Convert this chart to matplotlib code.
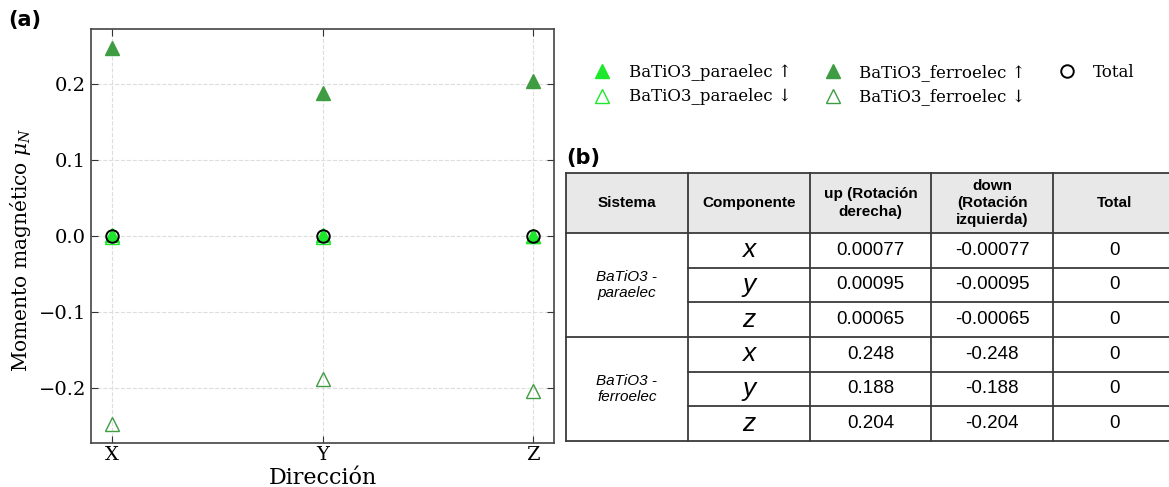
import matplotlib.pyplot as plt
from matplotlib.lines import Line2D

# ---- data ----
directions = ["X", "Y", "Z"]
para_up = [0.00077, 0.00095, 0.00065]
para_down = [-0.00077, -0.00095, -0.00065]
ferro_up = [0.248, 0.188, 0.204]
ferro_down = [-0.248, -0.188, -0.204]
total = [0, 0, 0]

table_header = ["Sistema", "Componente", "up (Rotación\nderecha)",
                "down\n(Rotación\nizquierda)", "Total"]
table_systems = ["BaTiO3 -\nparaelec", "BaTiO3 -\nferroelec"]
table_components = ["x", "y", "z"]

LIME = "#1ee82c"
DARK = "#3f9c42"

plt.rcParams["font.family"] = "DejaVu Serif"
plt.rcParams["mathtext.fontset"] = "dejavuserif"

fig = plt.figure(figsize=(11.69, 4.87), dpi=100)

# ---- (a) scatter ----
ax = fig.add_axes([91 / 1169, 44 / 487, 463 / 1169, 414 / 487])
xs = list(range(len(directions)))
ax.plot(xs, para_up, ls="none", marker="^", ms=10, color=LIME, zorder=3)
ax.plot(xs, para_down, ls="none", marker="^", ms=10, mfc="none", mec=LIME, zorder=3)
ax.plot(xs, ferro_up, ls="none", marker="^", ms=10, color=DARK, zorder=3)
ax.plot(xs, ferro_down, ls="none", marker="^", ms=10, mfc="none", mec=DARK, zorder=3)
ax.plot(xs, total, ls="none", marker="o", ms=9, mfc="none", mec="black", mew=1.4, zorder=4)

ax.set_xticks(xs)
ax.set_xticklabels(directions)
ax.set_yticks([-0.2, -0.1, 0.0, 0.1, 0.2])
ax.tick_params(direction="in", top=True, right=True, labelsize=14, length=5, colors="#333333",
               labelcolor="black")
ax.tick_params(axis="x", pad=2)
for s in ax.spines.values():
    s.set_color("#444444")
    s.set_linewidth(1.2)
ax.grid(True, ls="--", color="#dddddd", lw=0.8)
ax.set_axisbelow(True)
ax.set_xlabel("Dirección", fontsize=16, labelpad=2)
ax.set_ylabel(r"Momento magnético $\mu_N$", fontsize=14.5)
ax.yaxis.set_label_coords(-0.125, 0.466)

legend_elements = [
    Line2D([0], [0], ls="none", marker="^", ms=10, color=LIME, label="BaTiO3_paraelec ↑"),
    Line2D([0], [0], ls="none", marker="^", ms=10, mfc="none", mec=LIME, label="BaTiO3_paraelec ↓"),
    Line2D([0], [0], ls="none", marker="^", ms=10, color=DARK, label="BaTiO3_ferroelec ↑"),
    Line2D([0], [0], ls="none", marker="^", ms=10, mfc="none", mec=DARK, label="BaTiO3_ferroelec ↓"),
    Line2D([0], [0], ls="none", marker="o", ms=9, mfc="none", mec="black", mew=1.4, label="Total"),
]
fig.legend(handles=legend_elements, ncol=3, frameon=False, fontsize=12,
           handlelength=1.6, handletextpad=0.8, columnspacing=1.65, labelspacing=0.45,
           loc="upper left", bbox_to_anchor=(574 / 1169, 1 - 49 / 487))

fig.text(8 / 1169, 1 - 20 / 487, "(a)", fontsize=15, fontweight="bold",
         family="DejaVu Sans", va="center", ha="left")
fig.text(566 / 1169, 1 - 158 / 487, "(b)", fontsize=15, fontweight="bold",
         family="DejaVu Sans", va="center", ha="left")

# ---- (b) table ----
hdr_h = 1.73
n_rows = 6
tx = fig.add_axes([566 / 1169, 46 / 487, 609 / 1169, 268 / 487])
tx.set_xlim(0, 5)
tx.set_ylim(n_rows + hdr_h, 0)
tx.axis("off")
tx.fill_between([0, 5], 0, hdr_h, color="#e8e8e8", lw=0)

lc = "#3a3a3a"
lw = 1.3
tx.plot([0, 5], [0, 0], color=lc, lw=lw, clip_on=False)
tx.plot([0, 5], [hdr_h, hdr_h], color=lc, lw=lw, clip_on=False)
tx.plot([0, 5], [hdr_h + 3, hdr_h + 3], color=lc, lw=lw, clip_on=False)
tx.plot([0, 5], [hdr_h + 6, hdr_h + 6], color=lc, lw=lw, clip_on=False)
for r in [1, 2, 4, 5]:
    tx.plot([1, 5], [hdr_h + r, hdr_h + r], color=lc, lw=lw, clip_on=False)
for c in range(5):
    tx.plot([c, c], [0, hdr_h + 6], color=lc, lw=lw, clip_on=False)

sans = "Liberation Sans"
for c, h in enumerate(table_header):
    tx.text(c + 0.5, hdr_h / 2, h, ha="center", va="center", fontsize=11,
            fontweight="bold", family=sans, linespacing=1.3)

groups = [(para_up, para_down), (ferro_up, ferro_down)]
for g, (ups, downs) in enumerate(groups):
    tx.text(0.5, hdr_h + 3 * g + 1.5, table_systems[g], ha="center", va="center",
            fontsize=11, style="italic", family=sans, linespacing=1.25)
    for i in range(3):
        yc = hdr_h + 3 * g + i + 0.5
        tx.text(1.5, yc, table_components[i], ha="center", va="center",
                fontsize=19, style="italic", family=sans)
        tx.text(2.5, yc, f"{ups[i]:g}", ha="center", va="center", fontsize=13.5, family=sans)
        tx.text(3.5, yc, f"{downs[i]:g}", ha="center", va="center", fontsize=13.5, family=sans)
        tx.text(4.5, yc, f"{ups[i] + downs[i]:g}", ha="center", va="center",
                fontsize=13.5, family=sans)

fig.savefig("out.png", dpi=100)
